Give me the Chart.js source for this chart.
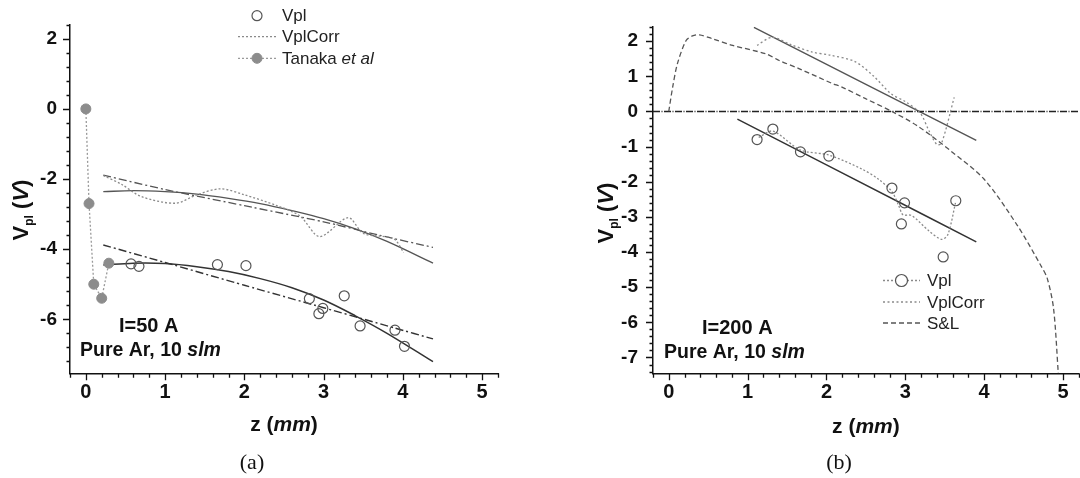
<!DOCTYPE html>
<html>
<head>
<meta charset="utf-8">
<script src="https://cdn.jsdelivr.net/npm/chart.js@4.4.1/dist/chart.umd.min.js"></script>
<style>
  html, body { margin: 0; padding: 0; background: #fff; overflow: hidden; }
  #wrap { position: relative; width: 1080px; height: 478px; overflow: hidden; }
  canvas { position: absolute; top: 0; }
  #chartA { left: 0; }
  #chartB { left: 540px; }
</style>
</head>
<body>
<div id="wrap">
  <canvas id="chartA" width="540" height="478"></canvas>
  <canvas id="chartB" width="545" height="478"></canvas>
</div>
<script>
// ---- panel (a): I = 50 A ----
const aTanakaZ = [0, 0.04, 0.10, 0.20, 0.29];
const aTanakaV = [0, -2.70, -5.00, -5.40, -4.40];

const aVplZ = [0.57, 0.67, 1.66, 2.02, 2.82, 2.94, 2.99, 3.26, 3.46, 3.90, 4.02];
const aVplV = [-4.42, -4.49, -4.44, -4.47, -5.41, -5.84, -5.69, -5.33, -6.19, -6.31, -6.77];

const aCorrZ = [0.22, 0.45, 0.70, 1.13, 1.40, 1.70, 2.00, 2.40, 2.70, 2.95, 3.31, 3.50, 3.88, 4.01];
const aCorrV = [-1.90, -2.15, -2.50, -2.69, -2.45, -2.28, -2.45, -2.75, -3.05, -3.64, -3.10, -3.55, -3.70, -4.09];

const aFitUpZ = [0.22, 0.60, 1.00, 1.40, 1.80, 2.20, 2.60, 3.00, 3.40, 3.80, 4.38];
const aFitUpV = [-2.36, -2.33, -2.36, -2.43, -2.55, -2.70, -2.90, -3.13, -3.42, -3.78, -4.40];

const aLinUpZ = [0.22, 1.00, 2.00, 3.00, 3.70, 4.38];
const aLinUpV = [-1.89, -2.30, -2.76, -3.22, -3.60, -3.95];

const aFitLoZ = [0.22, 0.60, 1.00, 1.40, 1.80, 2.20, 2.60, 3.00, 3.40, 3.80, 4.38];
const aFitLoV = [-4.45, -4.40, -4.41, -4.50, -4.64, -4.84, -5.10, -5.45, -5.90, -6.40, -7.21];

const aLinLoZ = [0.22, 1.00, 2.00, 3.00, 3.90, 4.38];
const aLinLoV = [-3.88, -4.38, -5.03, -5.67, -6.25, -6.56];

const aXTicks = [0, 1, 2, 3, 4, 5];
const aYTicks = [-6, -4, -2, 0, 2];

// ---- panel (b): I = 200 A ----
const bVplZ = [1.12, 1.32, 1.67, 2.03, 2.83, 2.95, 2.99, 3.48, 3.64];
const bVplV = [-0.80, -0.50, -1.15, -1.27, -2.18, -3.20, -2.60, -4.14, -2.54];

const bVplLineZ = [1.14, 1.32, 1.67, 2.03, 2.45, 2.66, 2.83, 2.92, 2.97, 3.08, 3.30, 3.46, 3.54, 3.64];
const bVplLineV = [-0.74, -0.56, -1.10, -1.24, -1.64, -1.93, -2.28, -2.70, -2.94, -2.96, -3.40, -3.64, -3.50, -2.56];

const bCorrZ = [1.12, 1.31, 1.55, 1.82, 2.05, 2.36, 2.60, 2.82, 3.00, 3.19, 3.30, 3.40, 3.46, 3.62];
const bCorrV = [1.88, 2.11, 1.90, 1.69, 1.60, 1.42, 1.00, 0.50, 0.28, -0.05, -0.55, -0.94, -0.90, 0.40];

const bFitUpZ = [1.08, 2.50, 3.90];
const bFitUpV = [2.39, 0.77, -0.82];

const bFitLoZ = [0.87, 2.00, 3.25, 3.90];
const bFitLoV = [-0.22, -1.52, -2.96, -3.71];

const bSlZ = [0, 0.05, 0.11, 0.22, 0.30, 0.39, 0.55, 0.81, 1.23, 1.40, 1.65, 2.07, 2.19, 2.49, 2.83, 3.16, 3.58, 4.00, 4.42, 4.72, 4.80, 4.88, 4.94];
const bSlV = [0, 0.70, 1.36, 2.02, 2.15, 2.18, 2.07, 1.88, 1.64, 1.45, 1.22, 0.80, 0.70, 0.37, 0.0, -0.42, -1.13, -1.93, -3.24, -4.39, -4.75, -5.61, -7.45];

const bZeroZ = [-0.2, 5.2];
const bZeroV = [0, 0];

const bXTicks = [0, 1, 2, 3, 4, 5];
const bYTicks = [-7, -6, -5, -4, -3, -2, -1, 0, 1, 2];

const SANS = "'Liberation Sans', Arial, sans-serif";
const SERIF = "'Liberation Serif', 'DejaVu Serif', serif";

function pts(zs, vs) {
  return zs.map((z, i) => ({ x: z, y: vs[i] }));
}

function lineSet(zs, vs, color, dash, width, tension) {
  return {
    data: pts(zs, vs), showLine: true, pointRadius: 0,
    borderColor: color, borderWidth: width, borderDash: dash,
    tension: tension, fill: false
  };
}

function markerSet(zs, vs, stroke, fillCol, radius) {
  return {
    data: pts(zs, vs), showLine: false, pointRadius: radius,
    pointBorderColor: stroke, pointBackgroundColor: fillCol,
    pointBorderWidth: 1.2, borderColor: stroke, backgroundColor: fillCol
  };
}

// draws rich text runs [[text, italic], ...] starting at x
function drawRuns(ctx, x, y, runs, size, weight) {
  let cx = x;
  runs.forEach(([t, it]) => {
    ctx.font = (it ? 'italic ' : '') + weight + ' ' + size + 'px ' + SANS;
    ctx.fillText(t, cx, y);
    cx += ctx.measureText(t).width;
  });
  return cx;
}

const decor = {
  id: 'decor',
  afterDraw(chart, args, o) {
    const ctx = chart.ctx;
    const area = chart.chartArea;
    const xs = chart.scales.x, ys = chart.scales.y;
    ctx.save();
    ctx.strokeStyle = '#111';
    ctx.lineWidth = 1.3;
    ctx.setLineDash([]);

    // tick marks on both axes
    ctx.beginPath();
    for (let i = Math.ceil(xs.min / o.xStep - 1e-6); i * o.xStep <= xs.max + 1e-6; i++) {
      const v = i * o.xStep;
      const major = Math.abs(v - Math.round(v)) < 1e-6;
      const px = Math.round(xs.getPixelForValue(v)) + 0.5;
      ctx.moveTo(px, area.bottom);
      ctx.lineTo(px, area.bottom + (major ? 7 : 4.5));
    }
    for (let i = Math.ceil(ys.min / o.yStep - 1e-6); i * o.yStep <= ys.max + 1e-6; i++) {
      const v = i * o.yStep;
      const r = v / o.yMajor;
      const major = Math.abs(r - Math.round(r)) < 1e-6;
      const py = Math.round(ys.getPixelForValue(v)) + 0.5;
      ctx.moveTo(area.left, py);
      ctx.lineTo(area.left - (major ? 7 : 3.5), py);
    }
    ctx.stroke();

    ctx.fillStyle = '#111';
    ctx.textBaseline = 'alphabetic';

    // condition labels inside the plot
    ctx.textAlign = 'left';
    drawRuns(ctx, o.current.x, o.current.y, o.current.runs, 20, 'bold');
    drawRuns(ctx, o.gas.x, o.gas.y, o.gas.runs, 19.5, 'bold');

    // x axis title
    const xt = [['z (', false], ['mm', true], [')', false]];
    let w = 0;
    xt.forEach(([t, it]) => { ctx.font = (it ? 'italic ' : '') + 'bold 21px ' + SANS; w += ctx.measureText(t).width; });
    drawRuns(ctx, (area.left + area.right) / 2 - w / 2, o.xTitleY, xt, 21, 'bold');

    // y axis title, rotated: V_pl (V)
    ctx.save();
    ctx.translate(o.yTitleX, o.yTitleY);
    ctx.rotate(-Math.PI / 2);
    const parts = [['V', 22, 0, ''], ['pl', 12, 5, ''], [' (', 22, 0, ''], ['V', 22, 0, 'italic '], [')', 22, 0, '']];
    let tw = 0;
    parts.forEach(([t, s, d, st]) => { ctx.font = st + 'bold ' + s + 'px ' + SANS; tw += ctx.measureText(t).width; });
    let cx = -tw / 2;
    parts.forEach(([t, s, d, st]) => {
      ctx.font = st + 'bold ' + s + 'px ' + SANS;
      ctx.fillText(t, cx, 8 + d);
      cx += ctx.measureText(t).width;
    });
    ctx.restore();

    // panel caption
    ctx.font = '22px ' + SERIF;
    ctx.textAlign = 'center';
    ctx.fillText(o.caption.text, o.caption.x, o.caption.y);

    // legend
    const lg = o.legend;
    lg.rows.forEach(row => {
      if (row.line != null) {
        const ds = chart.data.datasets[row.line];
        ctx.save();
        ctx.strokeStyle = ds.borderColor;
        ctx.lineWidth = ds.borderWidth;
        ctx.setLineDash(ds.borderDash || []);
        ctx.beginPath();
        ctx.moveTo(lg.x0, row.y);
        ctx.lineTo(lg.x1, row.y);
        ctx.stroke();
        ctx.restore();
      }
      if (row.point != null) {
        const ds = chart.data.datasets[row.point];
        ctx.save();
        ctx.setLineDash([]);
        ctx.beginPath();
        ctx.arc((lg.x0 + lg.x1) / 2, row.y, row.r || ds.pointRadius, 0, Math.PI * 2);
        ctx.fillStyle = ds.pointBackgroundColor === 'transparent' ? '#fff' : ds.pointBackgroundColor;
        ctx.fill();
        ctx.strokeStyle = ds.pointBorderColor;
        ctx.lineWidth = ds.pointBorderWidth;
        ctx.stroke();
        ctx.restore();
      }
      ctx.fillStyle = '#222';
      ctx.textAlign = 'left';
      ctx.textBaseline = 'middle';
      drawRuns(ctx, lg.textX, row.y + 1, row.label, 17, 'normal');
      ctx.textBaseline = 'alphabetic';
    });
    ctx.restore();
  }
};

function axes(xMin, xMax, yMin, yMax, xTicks, yTicks, yWidth, yFontSize, yPad) {
  const boldFont = size => ({ family: SANS, size: size, weight: 'bold' });
  return {
    x: {
      type: 'linear', min: xMin, max: xMax,
      afterBuildTicks: s => { s.ticks = xTicks.map(v => ({ value: v })); },
      afterFit: s => { s.height = 104.7; },
      grid: { display: false, drawTicks: false },
      border: { display: true, color: '#111', width: 1.5 },
      ticks: { font: boldFont(20), color: '#111', padding: 7, maxRotation: 0, autoSkip: false, callback: v => String(v) }
    },
    y: {
      type: 'linear', min: yMin, max: yMax,
      afterBuildTicks: s => { s.ticks = yTicks.map(v => ({ value: v })); },
      afterFit: s => { s.width = yWidth; },
      grid: { display: false, drawTicks: false },
      border: { display: true, color: '#111', width: 1.5 },
      ticks: { font: boldFont(yFontSize), color: '#111', padding: yPad, autoSkip: false, callback: v => String(v) }
    }
  };
}

const common = {
  responsive: false,
  animation: false,
  devicePixelRatio: 1,
  events: []
};

// panel (a)
new Chart(document.getElementById('chartA'), {
  type: 'scatter',
  data: {
    datasets: [
      markerSet(aVplZ, aVplV, '#555', 'transparent', 5),                  // 0 Vpl
      lineSet(aCorrZ, aCorrV, '#8a8a8a', [2, 2], 1.3, 0.3),                // 1 VplCorr
      Object.assign(lineSet(aTanakaZ, aTanakaV, '#9a9a9a', [2, 2], 1.3, 0), // 2 Tanaka
        { pointRadius: 5, pointBackgroundColor: '#8c8c8c', pointBorderColor: '#8c8c8c', pointBorderWidth: 1 }),
      lineSet(aFitUpZ, aFitUpV, '#555', [], 1.4, 0.35),
      lineSet(aLinUpZ, aLinUpV, '#555', [8, 3, 2, 3], 1.3, 0.2),
      lineSet(aFitLoZ, aFitLoV, '#333', [], 1.5, 0.35),
      lineSet(aLinLoZ, aLinLoV, '#333', [8, 3, 2, 3], 1.4, 0.2)
    ]
  },
  options: Object.assign({}, common, {
    layout: { padding: { left: 0, right: 42, top: 22.3, bottom: 0 } },
    scales: axes(-0.2, 5.2, -7.54, 2.41, aXTicks, aYTicks, 70, 19, 13),
    plugins: {
      legend: { display: false },
      tooltip: { enabled: false },
      decor: {
        xStep: 0.2, yStep: 0.4, yMajor: 2,
        current: { x: 119, y: 332, runs: [['I=50 A', false]] },
        gas: { x: 80, y: 356, runs: [['Pure Ar, 10 ', false], ['slm', true]] },
        xTitleY: 431, yTitleX: 20, yTitleY: 210,
        caption: { text: '(a)', x: 252, y: 469 },
        legend: {
          x0: 238, x1: 276, textX: 282,
          rows: [
            { point: 0, y: 15.7, label: [['Vpl', false]] },
            { line: 1, y: 36.7, label: [['VplCorr', false]] },
            { line: 2, point: 2, y: 58.3, label: [['Tanaka ', false], ['et al', true]] }
          ]
        }
      }
    }
  }),
  plugins: [decor]
});

// panel (b)
new Chart(document.getElementById('chartB'), {
  type: 'scatter',
  data: {
    datasets: [
      markerSet(bVplZ, bVplV, '#555', 'transparent', 5),                  // 0 Vpl
      lineSet(bVplLineZ, bVplLineV, '#8a8a8a', [2, 2], 1.3, 0.3),          // 1 Vpl trend
      lineSet(bCorrZ, bCorrV, '#8a8a8a', [2, 2.5], 1.3, 0.3),              // 2 VplCorr
      lineSet(bSlZ, bSlV, '#555', [5, 3], 1.3, 0.3),                       // 3 S&L
      lineSet(bZeroZ, bZeroV, '#222', [7, 1.5, 1, 1.5], 1.4, 0),
      lineSet(bFitUpZ, bFitUpV, '#555', [], 1.4, 0),
      lineSet(bFitLoZ, bFitLoV, '#333', [], 1.5, 0)
    ]
  },
  options: Object.assign({}, common, {
    layout: { padding: { left: 0, right: 4, top: 22.3, bottom: 0 } },
    scales: axes(-0.2, 5.2, -7.45, 2.42, bXTicks, bYTicks, 113, 19, 15),
    plugins: {
      legend: { display: false },
      tooltip: { enabled: false },
      decor: {
        xStep: 0.2, yStep: 0.2, yMajor: 1,
        current: { x: 162, y: 334, runs: [['I=200 A', false]] },
        gas: { x: 124, y: 358, runs: [['Pure Ar, 10 ', false], ['slm', true]] },
        xTitleY: 433, yTitleX: 65, yTitleY: 213,
        caption: { text: '(b)', x: 299, y: 469 },
        legend: {
          x0: 343, x1: 380, textX: 387,
          rows: [
            { line: 1, point: 0, r: 6, y: 280.5, label: [['Vpl', false]] },
            { line: 2, y: 302, label: [['VplCorr', false]] },
            { line: 3, y: 323, label: [['S&L', false]] }
          ]
        }
      }
    }
  }),
  plugins: [decor]
});
</script>
</body>
</html>
